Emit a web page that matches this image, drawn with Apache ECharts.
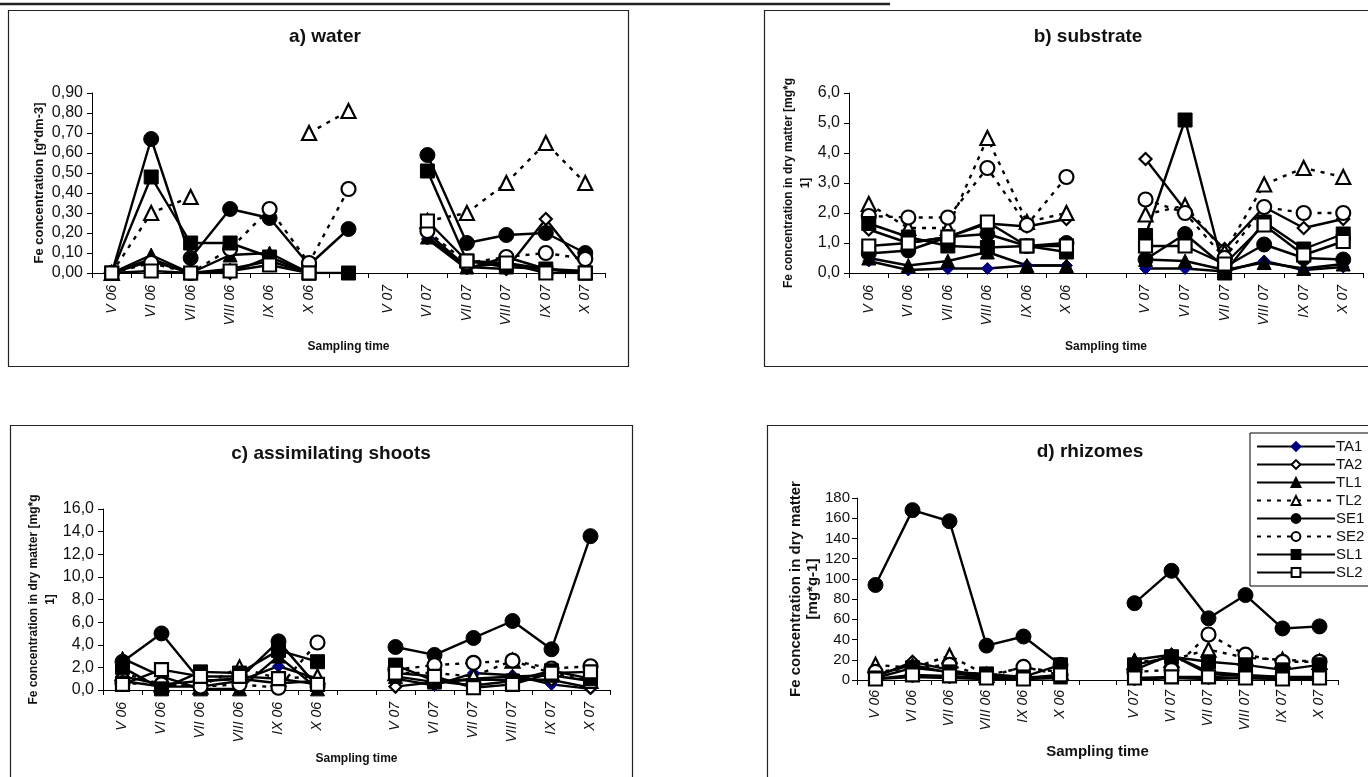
<!DOCTYPE html>
<html lang="en">
<head>
    <meta charset="UTF-8">
    <title>Fe concentration</title>
    <script src="https://cdn.jsdelivr.net/npm/echarts@6/dist/echarts.min.js"></script>
    <style>
        html,body{margin:0;padding:0;background:#fff;}
    </style>
</head>
<body>
    <div id="chart1" style="width:1368px;height:777px;"></div>
    <script>
        // categories (slot 6 is the empty gap between the two seasons)
        var cats=["V 06","VI 06","VII 06","VIII 06","IX 06","X 06","","V 07","VI 07","VII 07","VIII 07","IX 07","X 07"]
        var names=["TA1","TA2","TL1","TL2","SE1","SE2","SL1","SL2"]

        // a) water [g*dm-3]
        var waterTA1=[0,0.07,0,0.02,0.06,0,null,null,0.17,0.02,0.08,0.02,0.01]
        var waterTA2=[0,0.06,0,0,0.08,0,null,null,0.20,0.03,0.02,0.27,0.02]
        var waterTL1=[0,0.09,0,0.09,0.10,0,null,null,0.18,0.03,0.05,0.02,0]
        var waterTL2=[0,0.30,0.38,null,null,0.70,0.81,null,0.26,0.30,0.45,0.65,0.45]
        var waterSE1=[0,0.67,0.075,0.32,0.275,0.04,0.22,null,0.59,0.15,0.19,0.20,0.10]
        var waterSE2=[0,0.05,0,0.12,0.32,0.05,0.42,null,0.21,0.05,0.08,0.10,0.07]
        var waterSL1=[0,0.48,0.15,0.15,0.08,0,0,null,0.51,0.06,0.03,0.02,0]
        var waterSL2=[0,0.01,0,0.01,0.04,0,null,null,0.26,0.06,0.05,0,0]

        // b) substrate [mg*g-1]
        var subTA1=[0.4,0.1,0.15,0.15,0.25,0.25,null,0.15,0.15,0.05,0.4,0.1,0.2]
        var subTA2=[1.45,1.0,1.2,1.65,1.55,1.8,null,3.8,2.1,0.8,2.2,1.5,1.8]
        var subTL1=[0.5,0.25,0.4,0.7,0.25,0.25,null,0.45,0.4,0.1,0.35,0.15,0.3]
        var subTL2=[2.3,1.5,1.5,4.5,1.7,2.0,null,1.95,2.25,0.7,2.95,3.5,3.2]
        var subSE1=[0.65,0.75,1.2,1.3,0.9,1.0,null,0.45,1.3,0.2,0.95,0.5,0.45]
        var subSE2=[1.9,1.85,1.85,3.5,1.6,3.2,null,2.45,2.0,0.5,2.2,2.0,2.0]
        var subSL1=[1.65,1.2,0.9,0.85,0.9,0.7,null,1.25,5.1,0.0,1.7,0.8,1.3]
        var subSL2=[0.9,1.0,1.2,1.7,0.9,0.9,null,0.9,0.9,0.3,1.6,0.6,1.05]

        // c) assimilating shoots [mg*g-1]
        var shootTA1=[0.8,0.3,0.3,0.8,2.1,1.0,null,1.0,0.4,1.5,1.3,0.5,0.1]
        var shootTA2=[1.2,0.5,0.8,1.0,0.6,0.8,null,0.3,0.7,0.9,0.9,0.9,0.2]
        var shootTL1=[2.8,1.2,0.1,0.1,3.0,0.1,null,1.2,0.7,1.0,1.2,1.3,0.8]
        var shootTL2=[1.5,0.5,0.3,2.0,1.0,1.2,null,1.5,1.5,1.2,2.6,1.5,0.8]
        var shootSE1=[2.5,5.0,0.8,1.0,4.3,0.3,null,3.8,3.1,4.6,6.1,3.6,13.6]
        var shootSE2=[0.6,0.5,0.3,0.5,0.2,4.2,null,1.8,2.2,2.4,2.6,1.9,2.1]
        var shootSL1=[2.0,0.1,1.6,1.5,3.5,2.5,null,2.2,0.8,0.4,0.8,1.7,1.0]
        var shootSL2=[0.5,1.8,1.2,1.2,1.0,0.5,null,1.5,1.2,0.2,0.5,1.5,1.6]

        // d) rhizomes [mg*g-1]
        var rhizTA1=[1,3,2,1,1,2,null,0,2,1,2,1,1]
        var rhizTA2=[3,18,10,3,2,5,null,10,25,8,5,3,2]
        var rhizTL1=[5,15,7,3,2,3,null,20,25,6,4,3,3]
        var rhizTL2=[15,12,24,5,12,8,null,18,20,30,22,20,18]
        var rhizSE1=[94,168,157,34,43,15,null,76,108,61,84,51,53]
        var rhizSE2=[8,12,15,3,13,5,null,8,10,45,25,18,18]
        var rhizSL1=[2,12,8,6,3,15,null,15,23,18,15,10,15]
        var rhizSL2=[1,5,4,2,1,5,null,2,3,3,2,1,2]

        var panelData=[
            [waterTA1,waterTA2,waterTL1,waterTL2,waterSE1,waterSE2,waterSL1,waterSL2],
            [subTA1,subTA2,subTL1,subTL2,subSE1,subSE2,subSL1,subSL2],
            [shootTA1,shootTA2,shootTL1,shootTL2,shootSE1,shootSE2,shootSL1,shootSL2],
            [rhizTA1,rhizTA2,rhizTL1,rhizTL2,rhizSE1,rhizSE2,rhizSL1,rhizSL2]
        ]

        var myCharts=echarts.init(document.getElementById("chart1"))
        var FONT="Liberation Sans, Arial, sans-serif"

        // marker look per station
        var look={
            TA1:{symbol:"diamond",size:12,fill:"#000080",border:"#000080",dash:false},
            TA2:{symbol:"diamond",size:12,fill:"#fff",border:"#000",dash:false},
            TL1:{symbol:"triangle",size:14,fill:"#000",border:"#000",dash:false},
            TL2:{symbol:"triangle",size:14,fill:"#fff",border:"#000",dash:true},
            SE1:{symbol:"circle",size:15,fill:"#000",border:"#000",dash:false},
            SE2:{symbol:"circle",size:14,fill:"#fff",border:"#000",dash:true},
            SL1:{symbol:"rect",size:14,fill:"#000",border:"#000",dash:false},
            SL2:{symbol:"rect",size:13,fill:"#fff",border:"#000",dash:false}
        }

        // panel geometry
        var grids=[
            {left:92,top:93,width:513,height:180},
            {left:849,top:93,width:514,height:180},
            {left:103,top:509,width:507,height:181},
            {left:857,top:498,width:481,height:182}
        ]
        var yMax=[0.9,6,16,180]
        var yStep=[0.1,1,2,20]
        var yDigits=[2,1,1,0]
        var yNames=["Fe concentration [g*dm-3]","Fe concentration in dry matter [mg*g\n1]","Fe concentration in dry matter [mg*g\n1]","Fe concentration in dry matter\n[mg*g-1]"]
        var yNameGap=[42,35,43,34]
        var yNameSize=[13,12,12,15]
        var xNameGap=[68,68,63,64]
        var big=[false,false,false,true]

        var xAxes=[],yAxes=[],series=[]
        for(var p=0;p<4;p++){
            xAxes.push({
                type:"category",gridIndex:p,data:cats,
                axisLine:{lineStyle:{color:"#000",width:1}},
                axisTick:{show:true,length:5,lineStyle:{color:"#000"}},
                axisLabel:{rotate:90,interval:0,fontStyle:"italic",fontSize:14,color:"#111",fontFamily:FONT,margin:big[p]?10:12},
                name:"Sampling time",nameLocation:"middle",nameGap:xNameGap[p],
                nameTextStyle:{fontWeight:"bold",fontSize:big[p]?15:12,color:"#111",fontFamily:FONT}
            })
            yAxes.push({
                type:"value",gridIndex:p,min:0,max:yMax[p],interval:yStep[p],
                splitLine:{show:false},
                axisLine:{show:true,lineStyle:{color:"#000",width:1}},
                axisTick:{show:true,length:5,lineStyle:{color:"#000"}},
                axisLabel:{fontSize:big[p]?15:16,color:"#111",fontFamily:FONT,margin:big[p]?7:9,
                    formatter:(function(d){return function(v){return v.toFixed(d).replace(".",",")}})(yDigits[p])},
                name:yNames[p],nameLocation:"middle",nameGap:yNameGap[p],
                nameTextStyle:{fontWeight:"bold",fontSize:yNameSize[p],color:"#111",fontFamily:FONT,lineHeight:17}
            })
            for(var s=0;s<names.length;s++){
                var lk=look[names[s]]
                series.push({
                    name:names[s],type:"line",xAxisIndex:p,yAxisIndex:p,
                    data:panelData[p][s],
                    symbol:lk.symbol,symbolSize:lk.size,showAllSymbol:true,
                    lineStyle:{color:"#000",width:2.4,type:lk.dash?[4,6]:"solid"},
                    itemStyle:{color:lk.fill,borderColor:lk.border,borderWidth:lk.fill==="#fff"?2.2:1},
                    emphasis:{disabled:true},
                    animation:false
                })
            }
        }

        var titleStyle={fontSize:19,fontWeight:"bold",color:"#111",fontFamily:FONT}
        var option={
            animation:false,
            title:[
                {text:"a) water",left:320,top:22,textAlign:"center",textStyle:titleStyle},
                {text:"b) substrate",left:1083,top:22,textAlign:"center",textStyle:titleStyle},
                {text:"c) assimilating shoots",left:326,top:439,textAlign:"center",textStyle:titleStyle},
                {text:"d) rhizomes",left:1085,top:437,textAlign:"center",textStyle:titleStyle}
            ],
            legend:{
                data:names,orient:"vertical",left:1250,top:433,
                itemWidth:78,itemHeight:11,itemGap:3,
                padding:[6,20,6,6],
                borderColor:"#000",borderWidth:1,backgroundColor:"#fff",
                textStyle:{fontSize:15,color:"#111",fontFamily:FONT,padding:[0,0,0,-4]},
                selectedMode:false
            },
            grid:grids,
            xAxis:xAxes,
            yAxis:yAxes,
            series:series,
            graphic:[
                {type:"line",shape:{x1:0,y1:4,x2:890,y2:4},style:{stroke:"#222",lineWidth:2.5},silent:true},
                {type:"rect",shape:{x:8.5,y:10.5,width:620,height:356},style:{fill:"none",stroke:"#222",lineWidth:1.2},silent:true},
                {type:"rect",shape:{x:764.5,y:10.5,width:620,height:356},style:{fill:"none",stroke:"#222",lineWidth:1.2},silent:true},
                {type:"rect",shape:{x:10.5,y:425.5,width:622,height:380},style:{fill:"none",stroke:"#222",lineWidth:1.2},silent:true},
                {type:"rect",shape:{x:767.5,y:425.5,width:620,height:380},style:{fill:"none",stroke:"#222",lineWidth:1.2},silent:true}
            ]
        }
        myCharts.setOption(option)
    </script>
</body>
</html>
